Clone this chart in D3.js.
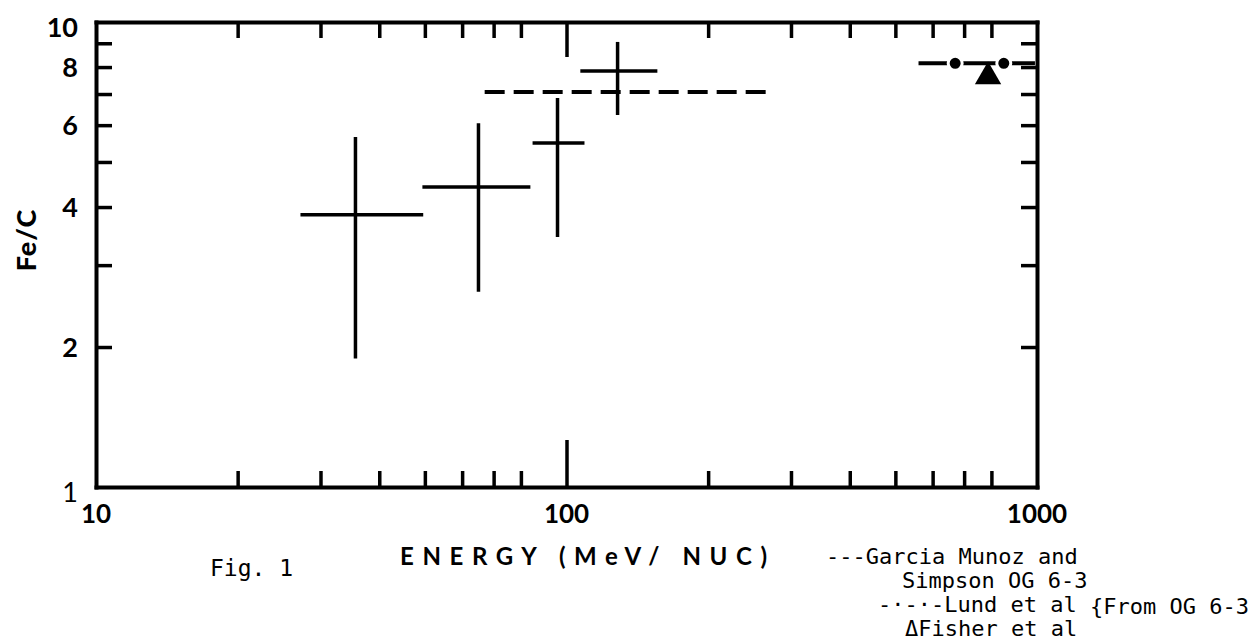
<!DOCTYPE html>
<html>
<head>
<meta charset="utf-8">
<script src="https://cdn.jsdelivr.net/npm/d3@7"></script>
<style>
body { margin: 0; background: #fff; }
</style>
</head>
<body>
<div id="chart"></div>
<script>
// error-bar crosses: energy (MeV/nuc) and Fe/C ratio
const energyMid = [35.6, 65, 95.7, 128.4];
const energyLow = [27.2, 49.4, 84.7, 107];
const energyHigh = [49.6, 83.8, 109.2, 156];
const ratioMid = [3.85, 4.42, 5.49, 7.85];
const ratioLow = [1.89, 2.63, 3.45, 6.31];
const ratioHigh = [5.66, 6.06, 6.86, 9.06];

// Garcia Munoz and Simpson (dashed)
const garciaEnergy = [67, 275];
const garciaRatio = [7.07, 7.07];

// Lund et al (line with dots)
const lundEnergy = [560, 990];
const lundRatio = [8.15, 8.15];
const lundDotEnergy = [670, 850];
const lundDotRatio = [8.15, 8.15];

// Fisher et al (triangle)
const fisherEnergy = [787];
const fisherRatio = [7.63];

// axes
const xLabels = [10, 100, 1000];
const xTicks = [20, 30, 40, 50, 60, 70, 80, 100, 200, 300, 400, 500, 600, 700, 800];
const yLabels = [1, 2, 4, 6, 8, 10];
const yTicks = [2, 3, 4, 5, 6, 7, 8, 9];

const legendLines = ["---Garcia Munoz and", "Simpson OG 6-3", "-·-·-Lund et al", "{From OG 6-3", "ΔFisher et al"];

const margin = { top: 22, right: 213, bottom: 156, left: 96 };
const totalWidth = 1250, totalHeight = 643;
const width = totalWidth - margin.left - margin.right;
const height = totalHeight - margin.top - margin.bottom;

const root = d3.select("#chart")
    .append("svg")
    .attr("width", totalWidth)
    .attr("height", totalHeight);

const svg = root.append("g")
    .attr("transform", `translate(${margin.left},${margin.top})`);

const xScale = d3.scaleLog().domain([10, 1000]).range([0, width]);
const yScale = d3.scaleLog().domain([1, 10]).range([height, 0]);

function styleAxis(g) {
    g.select(".domain").attr("stroke", "#000").attr("stroke-width", 4).attr("stroke-linecap", "square");
    g.selectAll(".tick line").attr("stroke", "#000").attr("stroke-width", 3.5);
}

const bottomAxis = svg.append("g")
    .attr("transform", `translate(0,${height})`)
    .call(d3.axisBottom(xScale).tickValues(xTicks).tickSize(-16).tickSizeOuter(0).tickFormat(""))
    .call(styleAxis);
bottomAxis.selectAll(".tick line").filter(d => d === 100).attr("y2", -47);

const topAxis = svg.append("g")
    .call(d3.axisTop(xScale).tickValues(xTicks).tickSize(-16).tickSizeOuter(0).tickFormat(""))
    .call(styleAxis);
topAxis.selectAll(".tick line").filter(d => d === 100).attr("y2", 35);

svg.append("g")
    .call(d3.axisLeft(yScale).tickValues(yTicks).tickSize(-16).tickSizeOuter(0).tickFormat(""))
    .call(styleAxis);

svg.append("g")
    .attr("transform", `translate(${width},0)`)
    .call(d3.axisRight(yScale).tickValues(yTicks).tickSize(-16).tickSizeOuter(0).tickFormat(""))
    .call(styleAxis);

// tick labels
svg.selectAll(".xlabel")
    .data(xLabels)
    .enter()
    .append("text")
    .attr("class", "xlabel")
    .attr("x", d => xScale(d))
    .attr("y", height + 36)
    .attr("text-anchor", "middle")
    .style("font-family", "Lato")
    .style("font-weight", "bold")
    .style("font-size", "26px")
    .text(d => d);

svg.selectAll(".ylabel")
    .data(yLabels)
    .enter()
    .append("text")
    .attr("class", "ylabel")
    .attr("x", -18)
    .attr("y", d => yScale(d) + (d === 1 || d === 10 ? 5 : 0))
    .attr("dy", "0.36em")
    .attr("text-anchor", "end")
    .style("font-family", "Lato")
    .style("font-weight", d => d === 1 ? "normal" : "bold")
    .style("font-size", "27px")
    .text(d => d);

// axis titles
svg.append("text")
    .attr("x", 304)
    .attr("y", height + 78)
    .attr("textLength", 367)
    .attr("lengthAdjust", "spacing")
    .style("font-family", "Lato")
    .style("font-weight", "bold")
    .style("font-size", "24px")
    .text("ENERGY (MeV/ NUC)");

svg.append("text")
    .attr("transform", `translate(${-70},${218}) rotate(-90)`)
    .attr("text-anchor", "middle")
    .attr("dy", "0.36em")
    .style("font-family", "Lato")
    .style("font-weight", "900")
    .style("font-size", "27px")
    .style("letter-spacing", "1px")
    .text("Fe/C");

// error-bar crosses
const crosses = energyMid.map((e, i) => ({
    e, lo: energyLow[i], hi: energyHigh[i],
    r: ratioMid[i], rlo: ratioLow[i], rhi: ratioHigh[i]
}));

svg.selectAll(".hbar")
    .data(crosses)
    .enter()
    .append("line")
    .attr("class", "hbar")
    .attr("x1", d => xScale(d.lo))
    .attr("x2", d => xScale(d.hi))
    .attr("y1", d => yScale(d.r))
    .attr("y2", d => yScale(d.r))
    .attr("stroke", "#000")
    .attr("stroke-width", 3.5);

svg.selectAll(".vbar")
    .data(crosses)
    .enter()
    .append("line")
    .attr("class", "vbar")
    .attr("x1", d => xScale(d.e))
    .attr("x2", d => xScale(d.e))
    .attr("y1", d => yScale(d.rlo))
    .attr("y2", d => yScale(d.rhi))
    .attr("stroke", "#000")
    .attr("stroke-width", 3.5);

const line = d3.line()
    .x(d => xScale(d[0]))
    .y(d => yScale(d[1]));

// Garcia Munoz and Simpson
svg.append("path")
    .datum(garciaEnergy.map((e, i) => [e, garciaRatio[i]]))
    .attr("d", line)
    .attr("fill", "none")
    .attr("stroke", "#000")
    .attr("stroke-width", 4)
    .attr("stroke-dasharray", "20,9");

// Lund et al
svg.append("path")
    .datum(lundEnergy.map((e, i) => [e, lundRatio[i]]))
    .attr("d", line)
    .attr("fill", "none")
    .attr("stroke", "#000")
    .attr("stroke-width", 4);

// Fisher et al
svg.selectAll(".fisher")
    .data(fisherEnergy.map((e, i) => [e, fisherRatio[i]]))
    .enter()
    .append("path")
    .attr("class", "fisher")
    .attr("d", d3.symbol(d3.symbolTriangle).size(300))
    .attr("transform", d => `translate(${xScale(d[0])},${yScale(d[1])})`)
    .attr("fill", "#000");

svg.selectAll(".lund-dot")
    .data(lundDotEnergy.map((e, i) => [e, lundDotRatio[i]]))
    .enter()
    .append("circle")
    .attr("class", "lund-dot")
    .attr("cx", d => xScale(d[0]))
    .attr("cy", d => yScale(d[1]))
    .attr("r", 7)
    .attr("fill", "#000")
    .attr("stroke", "#fff")
    .attr("stroke-width", 3);

// caption and legend text
const mono = "'DejaVu Sans Mono', 'Liberation Mono', monospace";

root.append("text")
    .attr("x", 210)
    .attr("y", 576)
    .style("font-family", mono)
    .style("font-size", "23px")
    .text("Fig. 1");

const legendPos = [[826, 564], [902, 588], [878, 612], [1090, 614], [905, 636]];
root.selectAll(".legend")
    .data(legendLines)
    .enter()
    .append("text")
    .attr("class", "legend")
    .attr("x", (d, i) => legendPos[i][0])
    .attr("y", (d, i) => legendPos[i][1])
    .style("font-family", mono)
    .style("font-size", "22px")
    .text(d => d);
</script>
</body>
</html>
